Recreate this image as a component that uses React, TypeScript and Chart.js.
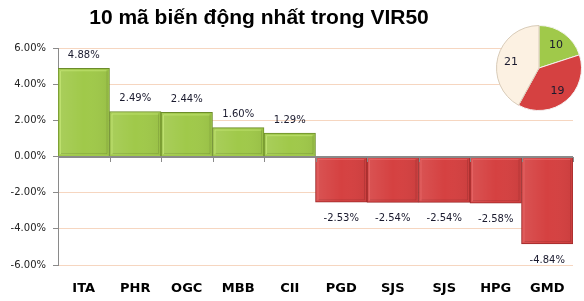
import { useEffect, useRef } from 'react';
import { Chart, registerables } from 'chart.js';
Chart.register(...registerables);

const titleText = '10 mã biến động nhất trong VIR50';
const categories = ['ITA', 'PHR', 'OGC', 'MBB', 'CII', 'PGD', 'SJS', 'SJS', 'HPG', 'GMD'];
const changes = [4.88, 2.49, 2.44, 1.6, 1.29, -2.53, -2.54, -2.54, -2.58, -4.84];
const yTicks = [-6, -4, -2, 0, 2, 4, 6];
const pieCategories = ['Tăng', 'Giảm', 'Đứng giá'];
const pieCounts = [10, 19, 21];

const GREEN = '#a0c94a';
const GREEN_DARK = '#6c8c2a';
const RED = '#d54141';
const RED_DARK = '#9c2a2a';
const CREAM = '#fcf1e2';

const titlePlugin = {
  id: 'customTitle',
  afterDraw(chart: any) {
    const c = chart.ctx;
    c.save();
    c.font = 'bold 21px "Liberation Sans", Arial, sans-serif';
    c.fillStyle = '#000';
    c.textAlign = 'center';
    c.textBaseline = 'middle';
    c.fillText(titleText, 259, 18);
    c.restore();
  },
};

const barDecorPlugin = {
  id: 'barDecor',
  afterDatasetsDraw(chart: any) {
    const c = chart.ctx;
    const meta = chart.getDatasetMeta(0);
    const x = chart.scales.x;
    const y = chart.scales.y;
    meta.data.forEach((bar: any, i: number) => {
      const v = changes[i];
      const left = bar.x - bar.width / 2;
      const right = bar.x + bar.width / 2;
      const top = Math.min(bar.y, bar.base);
      const bottom = Math.max(bar.y, bar.base);
      c.save();
      const g = c.createLinearGradient(left, 0, right, 0);
      g.addColorStop(0, 'rgba(255,255,255,0.10)');
      g.addColorStop(0.5, 'rgba(255,255,255,0.0)');
      g.addColorStop(1, 'rgba(0,0,0,0.05)');
      c.fillStyle = g;
      c.fillRect(left + 1, top + 1, right - left - 2, bottom - top - 2);
      c.strokeStyle = v >= 0 ? 'rgba(200,232,120,0.7)' : 'rgba(235,110,110,0.6)';
      c.lineWidth = 1;
      c.beginPath();
      c.moveTo(left + 2.5, bottom - 2);
      c.lineTo(left + 2.5, top + 2.5);
      c.lineTo(right - 3, top + 2.5);
      c.stroke();
      c.strokeStyle = 'rgba(0,0,0,0.10)';
      c.beginPath();
      c.moveTo(right - 2.5, top + 3);
      c.lineTo(right - 2.5, bottom - 2.5);
      c.lineTo(left + 3, bottom - 2.5);
      c.stroke();
      c.restore();
    });
    const zy = y.getPixelForValue(0);
    c.save();
    c.strokeStyle = '#8a8a8a';
    c.lineWidth = 1;
    c.beginPath();
    c.moveTo(x.left, Math.round(zy) + 0.5);
    c.lineTo(x.right, Math.round(zy) + 0.5);
    const n = categories.length;
    for (let i = 0; i <= n; i++) {
      const px = Math.round(x.left + ((x.right - x.left) * i) / n) + 0.5;
      c.moveTo(px, Math.round(zy));
      c.lineTo(px, Math.round(zy) + 5);
    }
    c.stroke();
    c.font = '10px "DejaVu Sans", sans-serif';
    c.fillStyle = '#1a1a2e';
    c.textAlign = 'center';
    c.textBaseline = 'middle';
    meta.data.forEach((bar: any, i: number) => {
      const v = changes[i];
      const ly = v >= 0 ? bar.y - 13 : bar.y + 16;
      c.fillText(v.toFixed(2) + '%', bar.x, ly);
    });
    c.restore();
  },
};

const pieLabelPlugin = {
  id: 'pieLabels',
  afterDatasetsDraw(chart: any) {
    const c = chart.ctx;
    const meta = chart.getDatasetMeta(0);
    c.save();
    c.font = '11px "DejaVu Sans", sans-serif';
    c.fillStyle = '#1a1a2e';
    c.textAlign = 'center';
    c.textBaseline = 'middle';
    meta.data.forEach((arc: any, i: number) => {
      const mid = (arc.startAngle + arc.endAngle) / 2;
      const r = arc.outerRadius * 0.68;
      c.fillText(String(pieCounts[i]), arc.x + Math.cos(mid) * r, arc.y + Math.sin(mid) * r + 1);
    });
    c.restore();
  },
};

export default function App() {
  const barRef = useRef<HTMLCanvasElement>(null);
  const pieRef = useRef<HTMLCanvasElement>(null);

  useEffect(() => {
    document.body.style.margin = '0';
    const bar = new Chart(barRef.current!, {
      type: 'bar',
      data: {
        labels: categories,
        datasets: [
          {
            data: changes,
            backgroundColor: changes.map((v) => (v >= 0 ? GREEN : RED)),
            borderColor: changes.map((v) => (v >= 0 ? GREEN_DARK : RED_DARK)),
            borderWidth: 1,
            barPercentage: 1,
            categoryPercentage: 1,
          },
        ],
      },
      options: {
        responsive: false,
        animation: false,
        layout: { padding: { top: 48, right: 11, bottom: 0, left: 0 } },
        plugins: { legend: { display: false }, tooltip: { enabled: false }, title: { display: false } },
        scales: {
          x: {
            grid: { display: false, drawTicks: false },
            border: { display: false },
            ticks: {
              padding: 16,
              color: '#000',
              font: { family: '"DejaVu Sans", sans-serif', size: 13, weight: 'bold' },
              maxRotation: 0,
              autoSkip: false,
            },
            afterFit(scale: any) {
              scale.height = 36;
            },
          },
          y: {
            min: -6,
            max: 6,
            afterBuildTicks(scale: any) {
              scale.ticks = yTicks.map((v) => ({ value: v }));
            },
            grid: {
              color: (ctx: any) => (ctx.tick && ctx.tick.value === 0 ? '#8a8a8a' : '#f6d6c0'),
              tickColor: '#8a8a8a',
              tickLength: 5,
            },
            border: { color: '#8a8a8a' },
            ticks: {
              padding: 7,
              color: '#222',
              font: { family: '"DejaVu Sans", sans-serif', size: 10 },
              callback: (v: any) => Number(v).toFixed(2) + '%',
            },
            afterFit(scale: any) {
              scale.width = 58;
            },
          },
        },
      },
      plugins: [titlePlugin, barDecorPlugin],
    } as any);

    const pie = new Chart(pieRef.current!, {
      type: 'pie',
      data: {
        labels: pieCategories,
        datasets: [
          {
            data: pieCounts,
            backgroundColor: [GREEN, RED, CREAM],
            borderColor: ['#f4f4f0', '#f4f0f0', '#d8cbb8'],
            borderWidth: 1,
          },
        ],
      },
      options: {
        responsive: false,
        animation: false,
        layout: { padding: 2 },
        plugins: { legend: { display: false }, tooltip: { enabled: false } },
      },
      plugins: [pieLabelPlugin],
    } as any);

    return () => {
      bar.destroy();
      pie.destroy();
    };
  }, []);

  return (
    <div style={{ position: 'absolute', left: 0, top: 0, width: 584, height: 301 }}>
      <canvas ref={barRef} width={584} height={301} style={{ position: 'absolute', left: 0, top: 0 }} />
      <canvas ref={pieRef} width={90} height={90} style={{ position: 'absolute', left: 494, top: 23 }} />
    </div>
  );
}
